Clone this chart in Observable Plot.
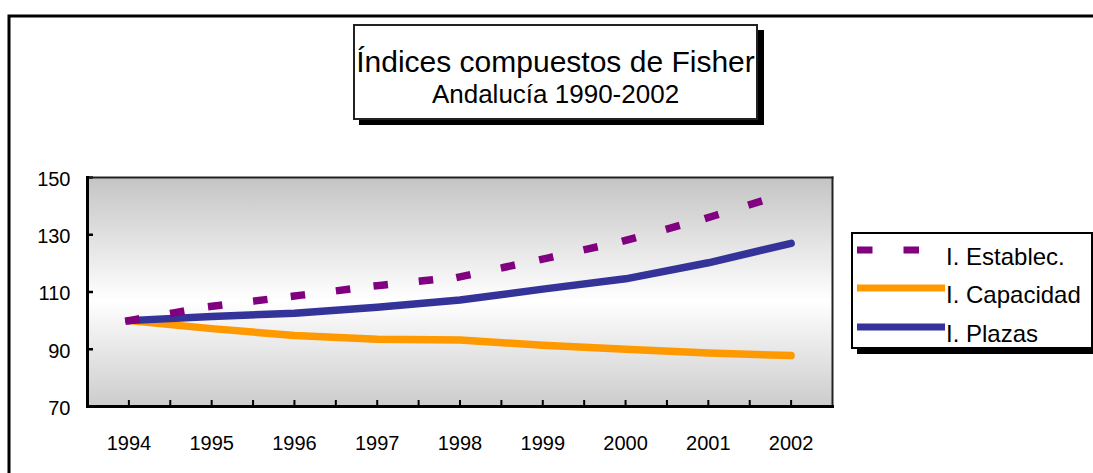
<!DOCTYPE html>
<html>
<head>
<meta charset="utf-8">
<script src="https://cdn.jsdelivr.net/npm/d3@7"></script>
<script src="https://cdn.jsdelivr.net/npm/@observablehq/plot@0.6"></script>
<style>
  html, body { margin: 0; padding: 0; background: #fff; }
  svg { font-family: "Liberation Sans", Arial, sans-serif; }
</style>
</head>
<body>
<div id="chart"></div>
<script>
// ---- data ----
const years = [1994, 1995, 1996, 1997, 1998, 1999, 2000, 2001, 2002];
const establec = [100, 105, 108.6, 112.2, 115.3, 121.5, 128, 136, 145];
const capacidad = [100, 97.2, 94.8, 93.5, 93.2, 91.4, 90, 88.7, 87.8];
const plazas = [100, 101.4, 102.6, 104.7, 107.2, 111, 114.6, 120.2, 127];
const yTicks = [70, 90, 110, 130, 150];
const xTickMarks = d3.range(1994, 2002.01, 0.5);
const seriesNames = ["I. Establec.", "I. Capacidad", "I. Plazas"];
const seriesColors = ["#800080", "#FF9900", "#333399"];
const titleText = "Índices compuestos de Fisher";
const subtitleText = "Andalucía 1990-2002";

const rows = (vals) => years.map((y, i) => ({year: y, value: vals[i]}));
const segs = (vals) => years.slice(0, -1).map((y, i) => ({x1: y, y1: vals[i], x2: years[i + 1], y2: vals[i + 1]}));

const W = 1093, H = 473;

const plot = Plot.plot({
  width: W,
  height: H,
  marginLeft: 87,
  marginRight: W - 832,
  marginTop: 177,
  marginBottom: H - 406,
  style: {fontFamily: "'Liberation Sans', Arial, sans-serif", background: "transparent"},
  x: {domain: [1993.5, 2002.5]},
  y: {domain: [70, 150]},
  marks: [
    // y axis ticks (inward) and labels
    Plot.axisY({ticks: yTicks, tickSize: -6, tickFormat: () => "", label: null, strokeWidth: 2.5}),
    Plot.axisY({ticks: yTicks, tickSize: 0, tickPadding: 17, fontSize: 20, label: null, dy: 2, fill: "#000"}),
    // x axis ticks (inward) and labels
    Plot.axisX({ticks: xTickMarks, tickSize: -6, tickFormat: () => "", label: null, strokeWidth: 2}),
    Plot.axisX({ticks: years, tickSize: 0, tickPadding: 29, fontSize: 20, tickFormat: d => String(d), label: null, fill: "#000"}),
    // series
    Plot.line(rows(capacidad), {x: "year", y: "value", stroke: seriesColors[1], strokeWidth: 7.5, strokeLinejoin: "round"}),
    Plot.line(rows(plazas), {x: "year", y: "value", stroke: seriesColors[2], strokeWidth: 7.5, strokeLinejoin: "round"}),
    Plot.link(segs(establec), {x1: "x1", y1: "y1", x2: "x2", y2: "y2", stroke: seriesColors[0], strokeWidth: 7.5, strokeDasharray: "7,38.5", strokeLinecap: "square"}),
    // frame borders
    Plot.frame({anchor: "top", stroke: "#222", strokeWidth: 2}),
    Plot.frame({anchor: "right", stroke: "#222", strokeWidth: 2}),
    Plot.frame({anchor: "left", stroke: "#000", strokeWidth: 3}),
    Plot.frame({anchor: "bottom", stroke: "#000", strokeWidth: 3})
  ]
});

document.getElementById("chart").appendChild(plot);

const svg = d3.select(plot);
// gradient background behind the marks
const xr = plot.scale("x").range, yr = plot.scale("y").range;
const x0 = Math.min(...xr), x1 = Math.max(...xr), y0 = Math.min(...yr), y1 = Math.max(...yr);
const defs = svg.insert("defs", ":first-child");
const grad = defs.append("linearGradient").attr("id", "plotbggrad")
  .attr("gradientUnits", "userSpaceOnUse")
  .attr("x1", 0).attr("y1", y0).attr("x2", 0).attr("y2", y1);
grad.append("stop").attr("offset", "0").attr("stop-color", "#c4c4c4");
grad.append("stop").attr("offset", "0.54").attr("stop-color", "#ffffff");
grad.append("stop").attr("offset", "1").attr("stop-color", "#cccccc");
const firstMark = plot.querySelector("g");
svg.insert("rect", () => firstMark)
  .attr("x", x0).attr("y", y0).attr("width", x1 - x0).attr("height", y1 - y0)
  .attr("fill", "url(#plotbggrad)");

// outer border
svg.append("path").attr("d", `M9,${H} V16 H${W}`).attr("fill", "none").attr("stroke", "#000").attr("stroke-width", 3);

// title box
const tb = svg.append("g").attr("text-anchor", "middle");
tb.append("rect").attr("x", 359).attr("y", 30).attr("width", 405).attr("height", 95).attr("fill", "#000");
tb.append("rect").attr("x", 354).attr("y", 25).attr("width", 403).attr("height", 94).attr("fill", "#fff").attr("stroke", "#222").attr("stroke-width", 2);
tb.append("text").attr("x", 555.5).attr("y", 71.5).attr("font-size", 30).attr("fill", "#000").text(titleText);
tb.append("text").attr("x", 555.5).attr("y", 103).attr("font-size", 26).attr("fill", "#000").text(subtitleText);

// legend box
const lg = svg.append("g").attr("text-anchor", "start");
lg.append("rect").attr("x", 857).attr("y", 238).attr("width", 240).attr("height", 116).attr("fill", "#000");
lg.append("rect").attr("x", 852).attr("y", 233).attr("width", 240).attr("height", 115).attr("fill", "#fff").attr("stroke", "#000").attr("stroke-width", 2);
const rowY = [250, 288, 327];
seriesNames.forEach((name, i) => {
  const line = lg.append("line").attr("x1", 857).attr("x2", 945).attr("y1", rowY[i]).attr("y2", rowY[i])
    .attr("stroke", seriesColors[i]).attr("stroke-width", 7);
  if (i === 0) line.attr("stroke-dasharray", "15.5,31");
  lg.append("text").attr("x", 946).attr("y", rowY[i] + 15).attr("font-size", 24).attr("text-anchor", "start").attr("fill", "#000").text(name);
});
</script>
</body>
</html>
